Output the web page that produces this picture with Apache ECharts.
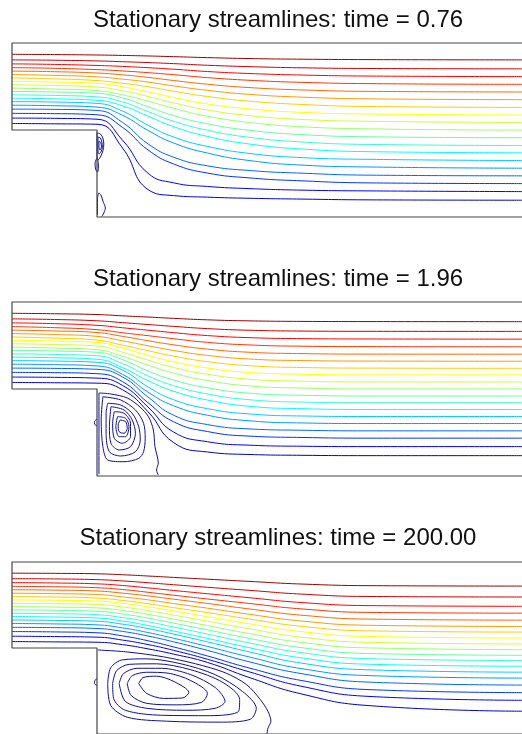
<!DOCTYPE html>
<html>
<head>
<meta charset="utf-8">
<title>Stationary streamlines</title>
<script src="https://cdn.jsdelivr.net/npm/echarts@6/dist/echarts.min.js"></script>
<style>
  html, body { margin: 0; padding: 0; background: #fff; }
  #chart { width: 522px; height: 734px; }
</style>
</head>
<body>
<div id="chart"></div>
<script>
// panel titles
const titles = [
  'Stationary streamlines: time = 0.76',
  'Stationary streamlines: time = 1.96',
  'Stationary streamlines: time = 200.00'
];

// channel outline (step height = step length = inlet height = 1)
const wallPath = [[6, 2], [0, 2], [0, 1], [1, 1], [1, 0], [6, 0]];

const xStations = [0, 0.5, 1.0, 1.3, 1.6, 1.9, 2.3, 2.8, 3.4, 4.2, 6];

// jet colours, top streamline first
const levelColors = ['#990000', '#cc0000', '#ff0000', '#ff3300', '#ff6600', '#ff9900', '#ffcc00', '#ffff00',
  '#ccff33', '#99ff66', '#66ff99', '#33ffcc', '#00ffff', '#00ccff', '#0099ff', '#0066ff', '#0033ff', '#0000ff', '#0000cc'];
const eddyColor = '#101096';

// time = 0.76
const p1Lines = [
  [1.870, 1.867, 1.862, 1.857, 1.851, 1.843, 1.832, 1.821, 1.814, 1.809, 1.806],
  [1.806, 1.802, 1.794, 1.785, 1.775, 1.763, 1.744, 1.728, 1.715, 1.707, 1.703],
  [1.760, 1.754, 1.742, 1.731, 1.716, 1.699, 1.672, 1.649, 1.632, 1.620, 1.614],
  [1.717, 1.709, 1.694, 1.679, 1.659, 1.636, 1.602, 1.571, 1.548, 1.533, 1.525],
  [1.677, 1.670, 1.655, 1.634, 1.605, 1.569, 1.526, 1.487, 1.461, 1.444, 1.437],
  [1.637, 1.628, 1.611, 1.585, 1.551, 1.507, 1.456, 1.409, 1.378, 1.358, 1.349],
  [1.598, 1.588, 1.568, 1.537, 1.497, 1.446, 1.385, 1.331, 1.294, 1.270, 1.260],
  [1.559, 1.551, 1.536, 1.497, 1.439, 1.373, 1.300, 1.242, 1.203, 1.184, 1.172],
  [1.520, 1.511, 1.494, 1.451, 1.386, 1.312, 1.230, 1.165, 1.122, 1.100, 1.087],
  [1.481, 1.471, 1.452, 1.404, 1.332, 1.250, 1.158, 1.086, 1.038, 1.013, 0.999],
  [1.443, 1.437, 1.422, 1.369, 1.267, 1.166, 1.071, 0.996, 0.948, 0.922, 0.911],
  [1.404, 1.397, 1.381, 1.323, 1.212, 1.101, 0.997, 0.915, 0.863, 0.834, 0.822],
  [1.366, 1.358, 1.341, 1.278, 1.159, 1.039, 0.926, 0.838, 0.782, 0.751, 0.738],
  [1.326, 1.321, 1.306, 1.218, 1.055, 0.920, 0.811, 0.730, 0.683, 0.663, 0.649],
  [1.285, 1.279, 1.263, 1.169, 0.995, 0.851, 0.735, 0.648, 0.597, 0.575, 0.561],
  [1.240, 1.237, 1.225, 1.087, 0.841, 0.688, 0.588, 0.534, 0.504, 0.481, 0.473],
  [1.191, 1.188, 1.175, 1.030, 0.771, 0.610, 0.505, 0.449, 0.416, 0.392, 0.384],
  [1.137, 1.134, 1.124, 0.883, 0.503, 0.393, 0.351, 0.326, 0.309, 0.300, 0.292],
  [1.075, 1.071, 1.066, 0.793, 0.316, 0.246, 0.228, 0.215, 0.206, 0.197, 0.193]
];
const p1Eddies = [
  [[1.000, 0.966], [1.040, 0.954], [1.069, 0.908], [1.080, 0.839], [1.069, 0.759], [1.040, 0.690], [1.011, 0.655], [1.000, 0.713], [1.000, 0.885], [1.000, 0.966]],
  [[1.011, 0.920], [1.040, 0.908], [1.057, 0.862], [1.063, 0.805], [1.046, 0.747], [1.023, 0.724], [1.011, 0.770], [1.011, 0.862], [1.011, 0.920]],
  [[1.023, 0.874], [1.046, 0.851], [1.052, 0.805], [1.034, 0.770], [1.023, 0.805], [1.023, 0.874]],
  [[1.000, 0.678], [0.977, 0.621], [0.983, 0.552], [1.006, 0.517], [1.017, 0.575], [1.011, 0.655]],
  [[1.006, 0.023], [1.006, 0.207], [1.023, 0.276], [1.046, 0.253], [1.069, 0.184], [1.098, 0.103], [1.080, 0.046], [1.057, 0.006]]
];

// time = 1.96
const p2Lines = [
  [1.870, 1.865, 1.856, 1.841, 1.827, 1.812, 1.795, 1.783, 1.777, 1.775, 1.774],
  [1.806, 1.799, 1.784, 1.763, 1.741, 1.720, 1.694, 1.675, 1.666, 1.663, 1.662],
  [1.760, 1.751, 1.732, 1.704, 1.676, 1.648, 1.614, 1.590, 1.579, 1.575, 1.573],
  [1.717, 1.705, 1.682, 1.647, 1.613, 1.578, 1.536, 1.506, 1.492, 1.487, 1.485],
  [1.677, 1.667, 1.649, 1.605, 1.555, 1.508, 1.458, 1.422, 1.407, 1.401, 1.400],
  [1.637, 1.626, 1.605, 1.554, 1.497, 1.443, 1.386, 1.344, 1.327, 1.321, 1.319],
  [1.598, 1.585, 1.562, 1.504, 1.440, 1.378, 1.314, 1.267, 1.247, 1.240, 1.238],
  [1.559, 1.551, 1.535, 1.472, 1.388, 1.313, 1.241, 1.190, 1.170, 1.162, 1.162],
  [1.520, 1.511, 1.494, 1.423, 1.331, 1.248, 1.169, 1.112, 1.090, 1.081, 1.081],
  [1.481, 1.471, 1.452, 1.375, 1.275, 1.183, 1.097, 1.035, 1.011, 1.001, 1.001],
  [1.443, 1.437, 1.422, 1.338, 1.208, 1.103, 1.014, 0.951, 0.928, 0.920, 0.920],
  [1.404, 1.397, 1.382, 1.292, 1.151, 1.039, 0.943, 0.876, 0.850, 0.842, 0.842],
  [1.366, 1.359, 1.342, 1.246, 1.096, 0.975, 0.873, 0.801, 0.774, 0.765, 0.765],
  [1.326, 1.321, 1.307, 1.217, 1.024, 0.877, 0.774, 0.713, 0.690, 0.684, 0.684],
  [1.285, 1.280, 1.265, 1.169, 0.964, 0.808, 0.698, 0.634, 0.610, 0.603, 0.603],
  [1.240, 1.237, 1.226, 1.139, 0.908, 0.699, 0.591, 0.541, 0.526, 0.519, 0.519],
  [1.191, 1.188, 1.176, 1.085, 0.843, 0.624, 0.511, 0.458, 0.443, 0.435, 0.435],
  [1.137, 1.134, 1.125, 1.041, 0.793, 0.506, 0.394, 0.354, 0.342, 0.338, 0.338],
  [1.075, 1.072, 1.067, 0.991, 0.739, 0.385, 0.276, 0.247, 0.238, 0.234, 0.234]
];
const p2Eddies = [
  [[1.023, 0.020], [1.023, 0.954], [1.161, 0.943], [1.356, 0.897], [1.506, 0.793], [1.606, 0.681], [1.663, 0.529], [1.682, 0.337], [1.721, 0.149], [1.701, 0.069], [1.721, 0.011]],
  [[1.069, 0.911], [1.279, 0.874], [1.452, 0.759], [1.548, 0.606], [1.567, 0.433], [1.548, 0.279], [1.491, 0.203], [1.318, 0.164], [1.126, 0.184], [1.069, 0.337], [1.049, 0.644], [1.069, 0.911]],
  [[1.126, 0.836], [1.279, 0.816], [1.414, 0.721], [1.491, 0.567], [1.509, 0.414], [1.452, 0.279], [1.279, 0.230], [1.146, 0.279], [1.107, 0.491], [1.107, 0.721], [1.126, 0.836]],
  [[1.164, 0.797], [1.318, 0.759], [1.414, 0.644], [1.452, 0.491], [1.394, 0.337], [1.261, 0.299], [1.164, 0.376], [1.146, 0.567], [1.164, 0.797]],
  [[1.203, 0.739], [1.318, 0.721], [1.394, 0.606], [1.394, 0.452], [1.299, 0.376], [1.203, 0.433], [1.184, 0.606], [1.203, 0.739]],
  [[1.241, 0.682], [1.337, 0.663], [1.376, 0.567], [1.337, 0.452], [1.261, 0.452], [1.222, 0.567], [1.241, 0.682]],
  [[1.272, 0.644], [1.337, 0.624], [1.356, 0.548], [1.318, 0.491], [1.261, 0.509], [1.249, 0.586], [1.272, 0.644]],
  [[1.000, 0.655], [0.971, 0.626], [0.971, 0.598], [1.000, 0.575]]
];

// time = 200.00
const p3Lines = [
  [1.870, 1.868, 1.863, 1.852, 1.837, 1.821, 1.800, 1.774, 1.744, 1.725, 1.720],
  [1.806, 1.803, 1.795, 1.780, 1.759, 1.736, 1.706, 1.670, 1.627, 1.599, 1.593],
  [1.760, 1.756, 1.746, 1.727, 1.699, 1.669, 1.631, 1.584, 1.529, 1.493, 1.485],
  [1.717, 1.712, 1.701, 1.680, 1.648, 1.614, 1.570, 1.517, 1.455, 1.414, 1.405],
  [1.677, 1.673, 1.663, 1.638, 1.606, 1.568, 1.518, 1.453, 1.382, 1.336, 1.324],
  [1.637, 1.632, 1.622, 1.594, 1.560, 1.517, 1.463, 1.391, 1.314, 1.264, 1.250],
  [1.598, 1.593, 1.581, 1.553, 1.515, 1.470, 1.412, 1.336, 1.253, 1.199, 1.185],
  [1.559, 1.555, 1.546, 1.519, 1.479, 1.431, 1.364, 1.280, 1.191, 1.134, 1.116],
  [1.520, 1.515, 1.506, 1.477, 1.435, 1.383, 1.312, 1.222, 1.127, 1.066, 1.047],
  [1.481, 1.476, 1.466, 1.436, 1.391, 1.336, 1.261, 1.166, 1.066, 1.001, 0.981],
  [1.443, 1.438, 1.427, 1.395, 1.348, 1.290, 1.211, 1.110, 1.005, 0.936, 0.915],
  [1.404, 1.399, 1.387, 1.354, 1.305, 1.244, 1.162, 1.057, 0.947, 0.876, 0.854],
  [1.366, 1.360, 1.349, 1.314, 1.262, 1.198, 1.112, 1.002, 0.886, 0.811, 0.788],
  [1.326, 1.321, 1.311, 1.277, 1.226, 1.162, 1.071, 0.953, 0.825, 0.746, 0.719],
  [1.285, 1.280, 1.269, 1.234, 1.180, 1.114, 1.018, 0.894, 0.761, 0.679, 0.650],
  [1.240, 1.237, 1.227, 1.193, 1.139, 1.072, 0.972, 0.837, 0.703, 0.603, 0.569],
  [1.191, 1.187, 1.177, 1.141, 1.084, 1.013, 0.907, 0.765, 0.623, 0.516, 0.481],
  [1.137, 1.133, 1.126, 1.092, 1.040, 0.973, 0.869, 0.720, 0.556, 0.437, 0.392],
  [1.075, 1.071, 1.067, 1.039, 0.990, 0.929, 0.832, 0.654, 0.467, 0.330, 0.265]
];
const p3Eddies = [
  [[1.011, 0.977], [1.356, 0.954], [1.782, 0.897], [2.161, 0.816], [2.506, 0.713], [2.759, 0.575], [2.920, 0.402], [3.011, 0.264], [3.046, 0.149], [3.011, 0.069], [3.000, 0.0]],
  [[1.126, 0.586], [1.161, 0.770], [1.299, 0.862], [1.586, 0.874], [1.989, 0.816], [2.391, 0.690], [2.713, 0.494], [2.874, 0.299], [2.805, 0.172], [2.448, 0.138], [1.816, 0.149], [1.356, 0.195], [1.161, 0.333], [1.126, 0.586]],
  [[1.184, 0.586], [1.230, 0.736], [1.379, 0.810], [1.701, 0.816], [2.103, 0.747], [2.483, 0.598], [2.678, 0.402], [2.667, 0.264], [2.333, 0.213], [1.759, 0.218], [1.333, 0.276], [1.195, 0.414], [1.184, 0.586]],
  [[1.261, 0.586], [1.310, 0.701], [1.471, 0.764], [1.759, 0.764], [2.103, 0.690], [2.391, 0.540], [2.506, 0.379], [2.391, 0.299], [2.046, 0.276], [1.586, 0.299], [1.333, 0.379], [1.261, 0.586]],
  [[1.356, 0.586], [1.414, 0.678], [1.586, 0.718], [1.839, 0.707], [2.103, 0.621], [2.299, 0.471], [2.230, 0.368], [1.931, 0.339], [1.586, 0.356], [1.402, 0.448], [1.356, 0.586]],
  [[1.491, 0.586], [1.540, 0.655], [1.701, 0.672], [1.908, 0.609], [2.080, 0.483], [2.011, 0.420], [1.782, 0.414], [1.586, 0.471], [1.491, 0.586]],
  [[1.000, 0.644], [0.971, 0.615], [0.971, 0.586], [1.000, 0.563]]
];

const panels = [
  { lines: p1Lines, eddies: p1Eddies, top: 43, titleTop: 3 },
  { lines: p2Lines, eddies: p2Eddies, top: 302, titleTop: 262 },
  { lines: p3Lines, eddies: p3Eddies, top: 562, titleTop: 521 }
];

const chart = echarts.init(document.getElementById('chart'));

const grid = [], xAxis = [], yAxis = [], title = [], series = [];

panels.forEach(function (p, g) {
  grid.push({ left: 12, top: p.top, width: 522, height: 174 });
  xAxis.push({ type: 'value', gridIndex: g, min: 0, max: 6, show: false });
  yAxis.push({ type: 'value', gridIndex: g, min: 0, max: 2, show: false });
  title.push({
    text: titles[g],
    left: 273,
    top: p.titleTop,
    textAlign: 'center',
    textStyle: { fontFamily: 'Liberation Sans, Arial, sans-serif', fontSize: 24, fontWeight: 'normal', color: '#111' }
  });

  // streamlines
  p.lines.forEach(function (ys, i) {
    series.push({
      type: 'line',
      xAxisIndex: g,
      yAxisIndex: g,
      data: ys.map(function (y, j) { return [xStations[j], y]; }),
      smooth: 0.5,
      symbol: 'none',
      silent: true,
      lineStyle: { color: levelColors[i], width: 1 }
    });
  });

  // recirculation contours
  p.eddies.forEach(function (loop) {
    series.push({
      type: 'line',
      xAxisIndex: g,
      yAxisIndex: g,
      data: loop,
      smooth: 0.3,
      symbol: 'none',
      silent: true,
      clip: false,
      lineStyle: { color: eddyColor, width: 1 }
    });
  });

  // walls
  series.push({
    type: 'line',
    xAxisIndex: g,
    yAxisIndex: g,
    data: wallPath,
    symbol: 'none',
    silent: true,
    clip: false,
    z: 5,
    lineStyle: { color: '#444', width: 1.2 }
  });
});

chart.setOption({
  animation: false,
  backgroundColor: '#fff',
  title: title,
  grid: grid,
  xAxis: xAxis,
  yAxis: yAxis,
  series: series
});

window.addEventListener('resize', function () {
  chart.resize();
});
</script>
</body>
</html>
